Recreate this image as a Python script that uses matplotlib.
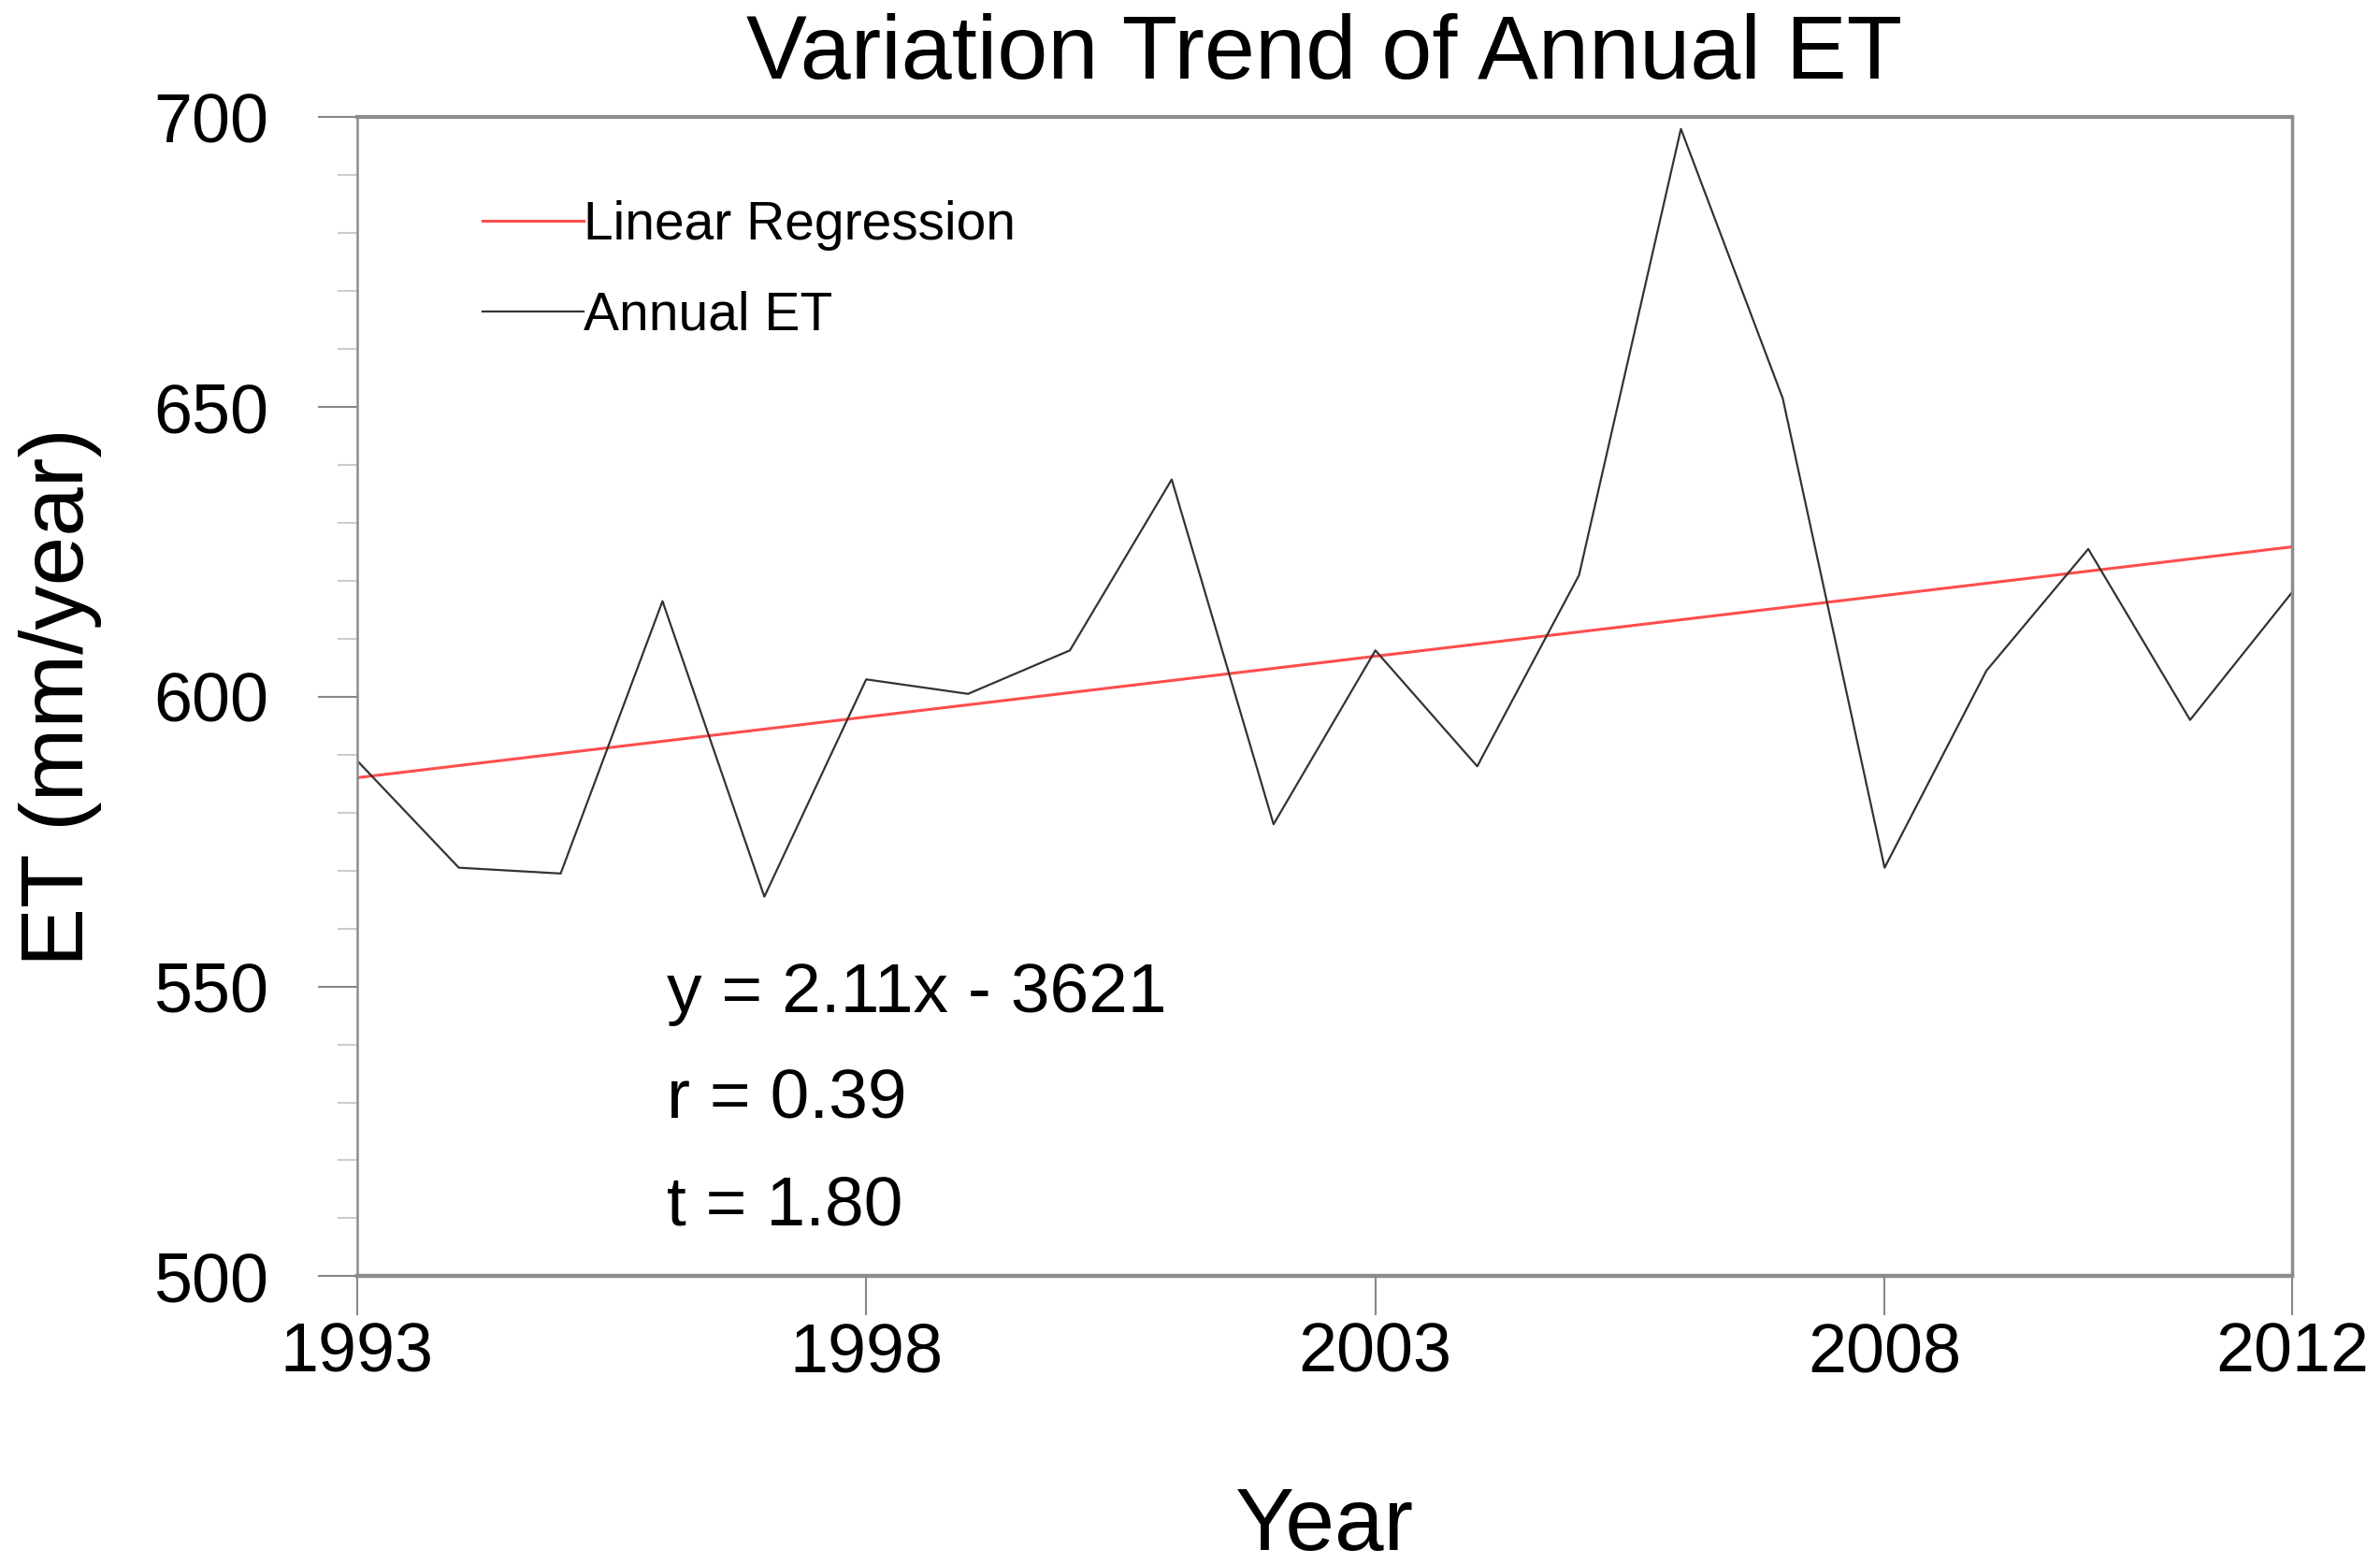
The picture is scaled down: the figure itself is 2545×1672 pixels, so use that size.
import numpy as np
import matplotlib
matplotlib.use('Agg')
import matplotlib.pyplot as plt
from matplotlib.ticker import MultipleLocator

plt.rcParams['font.family'] = ['Liberation Sans', 'DejaVu Sans']

# Annual ET values
years = np.arange(1993, 2013)
et = [589, 570.5, 569.5, 616.5, 565.5, 603, 600.5, 608, 637.5, 578,
      608, 588, 621, 698, 651.5, 570.5, 604.5, 625.5, 596, 618]
x_ticks = [1993, 1998, 2003, 2008, 2012]
y_ticks = [500, 550, 600, 650, 700]
stats_lines = ['y = 2.11x - 3621', 'r = 0.39', 't = 1.80']

# linear fit of the series
slope, intercept = np.polyfit(years, et, 1)
trend = slope * years + intercept

fig = plt.figure(figsize=(25.45, 16.72), dpi=100)
ax = fig.add_axes([0.150, 0.184, 0.813, 0.741])

ax.plot(years, trend, color='#ff4d4d', lw=2.2, label='Linear Regression')
ax.plot(years, et, color='#333333', lw=1.6, label='Annual ET')

ax.set_xlim(1993, 2012)
ax.set_ylim(500, 700)
ax.set_xticks(x_ticks)
ax.set_yticks(y_ticks)
ax.yaxis.set_minor_locator(MultipleLocator(10))

ax.tick_params(axis='both', which='major', direction='out', length=30, width=1.5,
               color='#888888', labelsize=53)
ax.tick_params(axis='y', which='major', pad=38)
ax.tick_params(axis='y', which='minor', direction='out', length=15, width=1.5,
               color='#cccccc')
ax.tick_params(axis='x', pad=5)

for side, w in [('left', 1.8), ('right', 2.5), ('top', 3.0), ('bottom', 3.2)]:
    ax.spines[side].set_color('#8c8c8c')
    ax.spines[side].set_linewidth(w)

ax.set_title('Variation Trend of Annual ET', fontsize=70, pad=30)
ax.set_xlabel('Year', fontsize=68, labelpad=76)
ax.set_ylabel('ET (mm/year)', fontsize=68, labelpad=40)

leg = ax.legend(loc='upper left', bbox_to_anchor=(0.04, 0.97), frameon=False,
                fontsize=41, handlelength=1.9, handletextpad=0.0, labelspacing=0.75)

for i, s in enumerate(stats_lines):
    ax.text(0.16, 0.228 - i * 0.092, s, transform=ax.transAxes, fontsize=54)

fig.savefig('out.png', dpi=100)
